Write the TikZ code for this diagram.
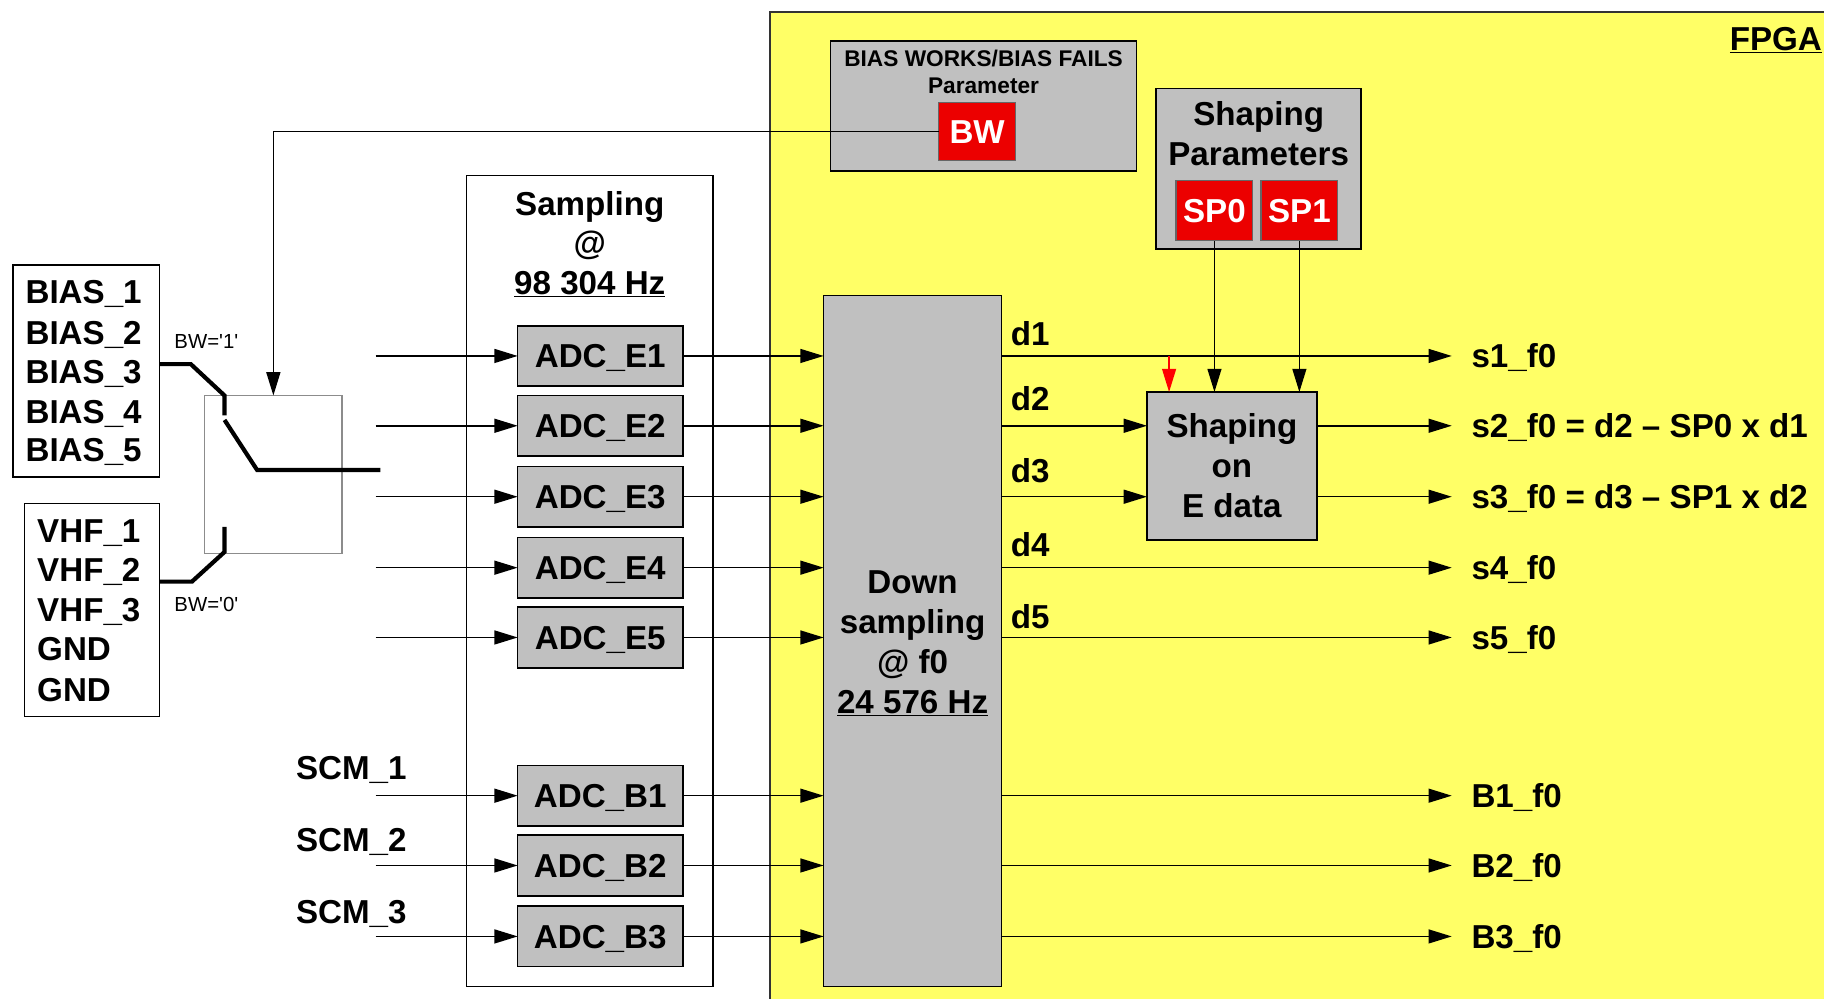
\documentclass[tikz,border=0pt]{standalone}
\usepackage{fontspec}
\setmainfont{Liberation Sans}
\usetikzlibrary{arrows.meta}
\definecolor{fpgay}{RGB}{255,255,102}
\definecolor{boxg}{RGB}{192,192,192}
\definecolor{parred}{RGB}{236,0,0}
\definecolor{swgray}{RGB}{140,140,140}
\begin{document}
\begin{tikzpicture}[x=1pt,y=-1pt,
  every node/.style={inner sep=0pt, outer sep=0pt},
  txt/.style={font=\fontsize{28.5}{34}\selectfont\bfseries, anchor=base},
  smalltxt/.style={font=\fontsize{19.5}{23}\selectfont\bfseries, anchor=base},
  tinytxt/.style={font=\fontsize{17.5}{20}\selectfont, anchor=base west},
  graybox/.style={draw=black, line width=1.4pt, fill=boxg},
  whitebox/.style={draw=black, line width=1.3pt, fill=white},
  redbox/.style={draw=black!60, line width=1pt, fill=parred, text=white,
    font=\fontsize{28.5}{34}\selectfont\bfseries, text height=20.5pt, text depth=0pt},
  adc/.style={graybox, minimum width=142pt, minimum height=52pt,
    font=\fontsize{28.5}{34}\selectfont\bfseries, text height=20.5pt, text depth=0pt},
  conn/.style={line width=1.3pt, -{Triangle[length=20pt,width=12pt]}},
  redconn/.style={line width=1.3pt, draw=red, -{Triangle[length=20pt,width=12pt,fill=red]}},
  swline/.style={line width=3.6pt, line cap=butt, line join=miter}
]
\useasboundingbox (0,0) rectangle (1568,858);
\fill[white] (0,0) rectangle (1568,858);

% FPGA area
\node[fill=fpgay, draw=black!80, line width=1.6pt, anchor=north west,
  minimum width=930pt, minimum height=870pt] (fpga) at (662,10) {};
\node[txt, anchor=base west] (fpgalbl) at (1487,43) {\underline{FPGA}};

% BIAS WORKS parameter
\node[graybox, minimum width=263pt, minimum height=112pt] (bwpar) at (845.5,91) {};
\node[smalltxt] (bwt1) at (845.5,57) {BIAS WORKS/BIAS FAILS};
\node[smalltxt] (bwt2) at (845.5,80) {Parameter};
\node[redbox, minimum width=66pt, minimum height=50pt] (bw) at (840,113) {BW};

% Shaping parameters
\node[graybox, minimum width=176pt, minimum height=138pt] (shpar) at (1082,145) {};
\node[txt] (shp1) at (1082,108) {Shaping};
\node[txt] (shp2) at (1082,142) {Parameters};
\node[redbox, minimum width=66pt, minimum height=52pt] (sp0) at (1044,181) {SP0};
\node[redbox, minimum width=66pt, minimum height=52pt] (sp1) at (1117,181) {SP1};

% Sampling box
\node[whitebox, minimum width=212pt, minimum height=697pt] (samp) at (507,499.5) {};
\node[txt] (sa1) at (507,185) {Sampling};
\node[txt] (sa2) at (507,219) {@};
\node[txt] (sa3) at (507,253) {\underline{98 304 Hz}};

% ADC boxes
\node[adc] (E1) at (516,306) {ADC\_E1};
\node[adc] (E2) at (516,366) {ADC\_E2};
\node[adc] (E3) at (516,427) {ADC\_E3};
\node[adc] (E4) at (516,488) {ADC\_E4};
\node[adc] (E5) at (516,548) {ADC\_E5};
\node[adc] (B1) at (516,684) {ADC\_B1};
\node[adc] (B2) at (516,744) {ADC\_B2};
\node[adc] (B3) at (516,805) {ADC\_B3};

% Down sampling
\node[graybox, minimum width=153pt, minimum height=594pt] (down) at (784.5,551) {};
\node[txt] (do1) at (784.5,510) {Down};
\node[txt] (do2) at (784.5,544.5) {sampling};
\node[txt] (do3) at (784.5,579) {@ f0};
\node[txt] (do4) at (784.5,613.5) {\underline{24 576 Hz}};

% Shaping on E data
\node[graybox, minimum width=146pt, minimum height=127pt] (shape) at (1059,400.5) {};
\node[txt] (sh1) at (1059,376) {Shaping};
\node[txt] (sh2) at (1059,410.5) {on};
\node[txt] (sh3) at (1059,445) {E data};

% input boxes
\node[draw=black, line width=1.3pt, fill=white, minimum width=126pt, minimum height=182pt] (bias) at (74,319) {};
\foreach \i/\y in {1/261,2/296,3/330,4/364,5/397}
  \node[txt, anchor=base west] (bl\i) at (22,\y) {BIAS\_\i};
\node[draw=black, line width=1.3pt, fill=white, minimum width=116pt, minimum height=183pt] (vhf) at (79,524.5) {};
\node[txt, anchor=base west] (vl1) at (32,466) {VHF\_1};
\node[txt, anchor=base west] (vl2) at (32,500) {VHF\_2};
\node[txt, anchor=base west] (vl3) at (32,534) {VHF\_3};
\node[txt, anchor=base west] (vl4) at (32,568) {GND};
\node[txt, anchor=base west] (vl5) at (32,603) {GND};

% switch
\node[draw=swgray, line width=1.2pt, minimum width=118pt, minimum height=136pt] (sw) at (235,408) {};
\node[tinytxt] (bwone) at (150,300) {BW=\textquotesingle 1\textquotesingle};
\node[tinytxt] (bwzero) at (150,526) {BW=\textquotesingle 0\textquotesingle};
\coordinate (ba) at (137,313);
\coordinate (va) at (137,500);
\coordinate (pole) at (193,361);
\coordinate (swout) at (327,404);
\draw[swline] (ba) -- (164,313) -- (193,340) -- (193,357);
\draw[swline] (pole) -- (221,404) -- (swout);
\draw[swline] (va) -- (165,500) -- (193,474.5) -- (193,453);

% BW control
\draw[conn] (bw.west) -| (sw.north);

% inputs to ADCs
\foreach \n in {E1,E2,E3,E4,E5}
  \draw[conn] (323,0 |- \n.west) -- (\n.west);
\node[txt] (scm1) at (302,670) {SCM\_1};
\node[txt] (scm2) at (302,732) {SCM\_2};
\node[txt] (scm3) at (302,794) {SCM\_3};
\foreach \n in {B1,B2,B3}
  \draw[conn] (323,0 |- \n.west) -- (\n.west);

% ADC to down sampling
\foreach \n in {E1,E2,E3,E4,E5,B1,B2,B3}
  \draw[conn] (\n.east) -- (down.west |- \n.east);

% outputs
\coordinate (o1) at (1248,306);
\coordinate (o2) at (1248,366);
\coordinate (o3) at (1248,427);
\coordinate (o4) at (1248,488);
\coordinate (o5) at (1248,548);
\coordinate (o6) at (1248,684);
\coordinate (o7) at (1248,744);
\coordinate (o8) at (1248,805);
\draw[conn] (down.east |- o1) -- (o1);
\draw[conn] (down.east |- o2) -- (shape.west |- o2);
\draw[conn] (down.east |- o3) -- (shape.west |- o3);
\draw[conn] (shape.east |- o2) -- (o2);
\draw[conn] (shape.east |- o3) -- (o3);
\draw[conn] (down.east |- o4) -- (o4);
\draw[conn] (down.east |- o5) -- (o5);
\draw[conn] (down.east |- o6) -- (o6);
\draw[conn] (down.east |- o7) -- (o7);
\draw[conn] (down.east |- o8) -- (o8);

\node[txt, anchor=base west] (dl1) at (869,297) {d1};
\node[txt, anchor=base west] (dl2) at (869,353) {d2};
\node[txt, anchor=base west] (dl3) at (869,415) {d3};
\node[txt, anchor=base west] (dl4) at (869,478) {d4};
\node[txt, anchor=base west] (dl5) at (869,540) {d5};

\node[txt, anchor=base west] (ol1) at (1265,316) {s1\_f0};
\node[txt, anchor=base west] (ol2) at (1265,376) {s2\_f0 = d2 -- SP0 x d1};
\node[txt, anchor=base west] (ol3) at (1265,437) {s3\_f0 = d3 -- SP1 x d2};
\node[txt, anchor=base west] (ol4) at (1265,498) {s4\_f0};
\node[txt, anchor=base west] (ol5) at (1265,558) {s5\_f0};
\node[txt, anchor=base west] (ol6) at (1265,694) {B1\_f0};
\node[txt, anchor=base west] (ol7) at (1265,754) {B2\_f0};
\node[txt, anchor=base west] (ol8) at (1265,815) {B3\_f0};

% shaping parameter inputs
\coordinate (rtop) at (1005,306);
\draw[redconn] (rtop) -- (rtop |- shape.north);
\draw[conn] (sp0.south) -- (sp0.south |- shape.north);
\draw[conn] (sp1.south) -- (sp1.south |- shape.north);
\end{tikzpicture}
\end{document}
